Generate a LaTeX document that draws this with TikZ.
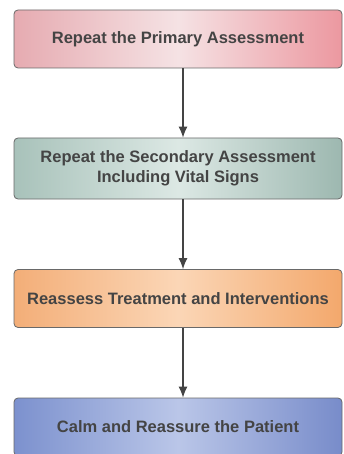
\documentclass[tikz,border=0pt]{standalone}
\usepackage{fontspec}
\setmainfont{Liberation Sans}
\usepackage{tikz}
\usetikzlibrary{positioning}
\usetikzlibrary{arrows.meta}

\definecolor{pinkL}{HTML}{E6ABB1}
\definecolor{pinkM}{HTML}{F5E2E4}
\definecolor{pinkR}{HTML}{EC98A0}
\definecolor{sageL}{HTML}{A8C2BA}
\definecolor{sageM}{HTML}{DCE8E4}
\definecolor{sageR}{HTML}{9DB8B0}
\definecolor{peachL}{HTML}{F3AE78}
\definecolor{peachM}{HTML}{FBD6B6}
\definecolor{peachR}{HTML}{F3A86C}
\definecolor{blueL}{HTML}{7C91CE}
\definecolor{blueM}{HTML}{BAC6E8}
\definecolor{blueR}{HTML}{788CCA}
\definecolor{inkgrey}{HTML}{444444}

\tikzset{
	stepbox/.style={draw=inkgrey!80, line width=0.8pt, rounded corners=4pt,
		minimum width=328pt, minimum height=58pt, align=center,
		font=\bfseries\fontsize{16.5}{20}\selectfont, text=inkgrey},
	flow/.style={draw=inkgrey, line width=1.1pt, -{Latex[length=11pt,width=9pt]}}
}

\begin{document}
\begin{tikzpicture}[x=1pt,y=-1pt]
	
	% page frame, same size as the original picture
	\useasboundingbox (0,0) rectangle (343,454);
	\clip (0,0) rectangle (343,454);
	
	% the four steps, top to bottom
	\node[stepbox, left color=pinkL, right color=pinkR, middle color=pinkM] (S1) at (178,39) {Repeat the Primary Assessment};
	\node[stepbox, minimum height=61pt, left color=sageL, right color=sageR, middle color=sageM] (S2) at (178,168.5) {Repeat the Secondary Assessment\\Including Vital Signs};
	\node[stepbox, left color=peachL, right color=peachR, middle color=peachM] (S3) at (178,298.5) {Reassess Treatment and Interventions};
	\node[stepbox, left color=blueL, right color=blueR, middle color=blueM] (S4) at (178,427) {Calm and Reassure the Patient};
	
	% connectors (a bit right of the box centre, as in the original)
	\draw[flow] ([xshift=5pt]S1.south) -- ([xshift=5pt]S2.north);
	\draw[flow] ([xshift=5pt]S2.south) -- ([xshift=5pt]S3.north);
	\draw[flow] ([xshift=5pt]S3.south) -- ([xshift=5pt]S4.north);
	
\end{tikzpicture}
\end{document}
